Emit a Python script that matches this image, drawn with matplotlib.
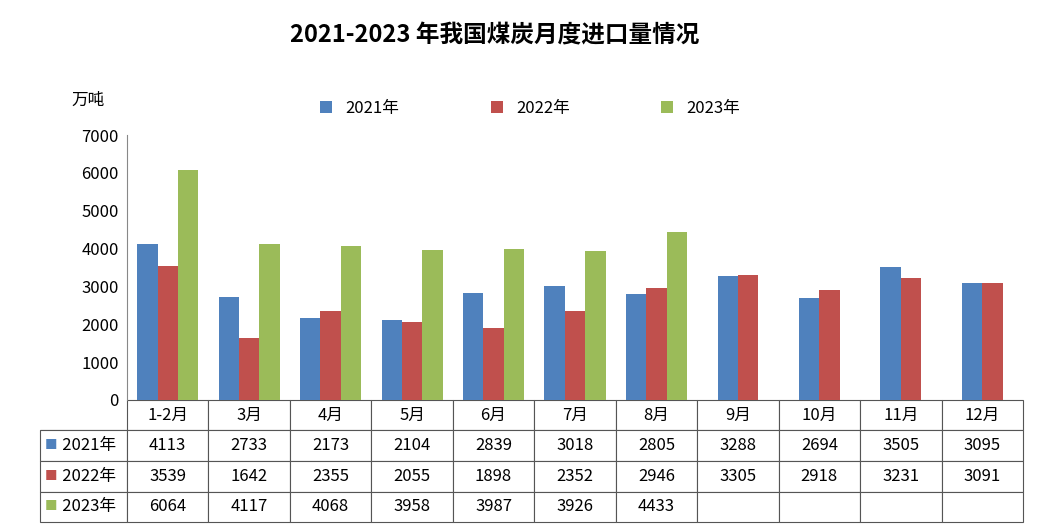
import matplotlib
matplotlib.use("Agg")
import matplotlib.pyplot as plt
from matplotlib import font_manager as fm

cjk = [f for f in fm.fontManager.ttflist if 'CJK' in f.name]
fam = None
for pref in ['Noto Sans CJK SC', 'Noto Sans CJK JP']:
    if any(f.name == pref for f in cjk):
        fam = pref; break
if fam is None and cjk:
    fam = cjk[0].name
if fam is None:
    import glob
    files = glob.glob('/usr/share/fonts/**/*CJK*', recursive=True)
    if files:
        fm.fontManager.addfont(files[0])
        fam = fm.FontProperties(fname=files[0]).get_name()
plt.rcParams['font.family'] = [fam or 'DejaVu Sans', 'DejaVu Sans']

months = ["1-2月","3月","4月","5月","6月","7月","8月","9月","10月","11月","12月"]
series_names = ["2021年","2022年","2023年"]
v2021 = [4113,2733,2173,2104,2839,3018,2805,3288,2694,3505,3095]
v2022 = [3539,1642,2355,2055,1898,2352,2946,3305,2918,3231,3091]
v2023 = [6064,4117,4068,3958,3987,3926,4433]
colors = ["#4F81BD","#C0504D","#9BBB59"]

fig = plt.figure(figsize=(10.48,5.32), dpi=100)
ax = fig.add_axes([127/1048, 1-400/532, 896/1048, 265/532])
w = 0.25
data = [v2021, v2022, v2023]
for i in range(len(months)):
    vals = [(k, d[i]) for k, d in enumerate(data) if i < len(d)]
    n = len(vals)
    for j, (k, v) in enumerate(vals):
        x = i + (j - (n-1)/2)*w
        ax.bar(x, v, width=w, color=colors[k], label=series_names[k] if i == 0 else None)
ax.set_xlim(-0.5, len(months)-0.5)
ax.set_ylim(0, 7000)
ax.set_yticks(range(0, 7001, 1000))
ax.tick_params(axis='y', labelsize=12, length=0, pad=6)
ax.set_xticks([])
for s in ['top','right','bottom']:
    ax.spines[s].set_visible(False)
ax.spines['left'].set_color('#888888')

cell = [["   " + series_names[k]] + [str(v) for v in d] + [""]*(len(months)-len(d))
        for k, d in enumerate(data)]
lw = 87/896
tbl = ax.table(cellText=cell, colLabels=[""] + months, cellLoc='center',
               bbox=[-lw, -122/265, 1+lw, 122/265])
tbl.auto_set_font_size(False)
tbl.set_fontsize(12)
for (r, c), cl in tbl.get_celld().items():
    cl.set_edgecolor('#555555')
    cl.set_linewidth(0.8)
    cl.set_width(lw if c == 0 else 1/len(months))
    if r == 0 and c == 0:
        cl.visible_edges = 'B'
for k in range(3):
    yc = -122/265 + (122/265)*(2.5-k)/4
    ax.text(-82/896, yc, "■", color=colors[k], fontsize=9, va='center', ha='left',
            transform=ax.transAxes)

fig.text(0.472, 1-35/532, "2021-2023 年我国煤炭月度进口量情况", ha='center', va='center',
         fontsize=17, fontweight='bold')
fig.text(88/1048, 1-100/532, "万吨", ha='center', va='center', fontsize=12)
ax.legend(loc='upper center', bbox_to_anchor=(0.45, 1.19), ncol=3, frameon=False,
          fontsize=12, handlelength=0.7, handleheight=0.7, columnspacing=5.5)
fig.savefig("out.png", dpi=100)
